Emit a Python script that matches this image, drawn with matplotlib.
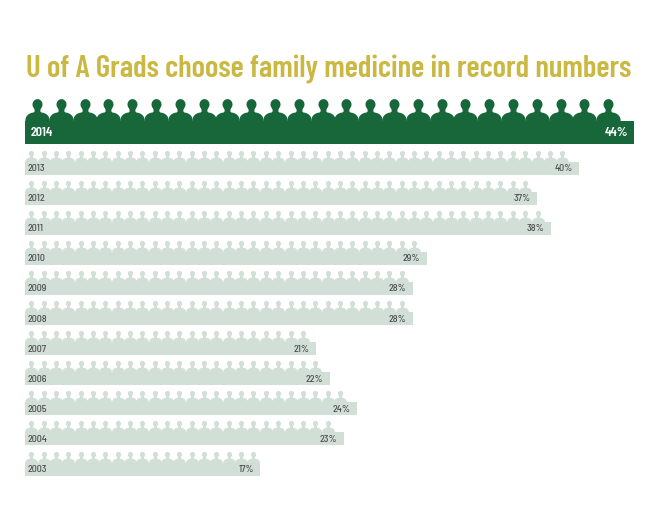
import numpy as np
import matplotlib
matplotlib.use("Agg")
import matplotlib.pyplot as plt
from matplotlib.path import Path
from matplotlib import font_manager as fm

title = "U of A Grads choose family medicine in record numbers"
years = ["2014", "2013", "2012", "2011", "2010", "2009", "2008", "2007", "2006", "2005", "2004", "2003"]
shares = [44, 40, 37, 38, 29, 28, 28, 21, 22, 24, 23, 17]

dark_green = "#17673a"
light_green = "#d2dfd6"
gold = "#cbb843"
grey_text = "#4d4d4d"

# condensed DIN-like faces if they are there, else DejaVu condensed
installed = {f.name for f in fm.fontManager.ttflist}
have_barlow = "Barlow Condensed" in installed
fonts = ["Barlow Condensed", "DejaVu Sans"] if have_barlow else ["DejaVu Sans"]
small_fonts = ["Barlow Semi Condensed"] + fonts if "Barlow Semi Condensed" in installed else fonts
title_size = 22.3 if have_barlow else 17

W, H, DPI = 654, 508, 100
x_left = 25          # pixel where the bars start
px_per_pct = 13.85   # bar length in pixels per percent


def person_marker():
    # origin sits on the bar top; one unit = half the spacing between people
    t = np.linspace(0, np.pi, 60)
    c, s = np.cos(t), np.sin(t)
    sh = np.column_stack([1.02 * np.sign(c) * np.abs(c) ** 0.8, 0.78 * s ** 0.8])
    sh = np.vstack([[1.02, -0.3], sh, [-1.02, -0.3], [1.02, -0.3]])
    nk = np.array([[-0.25, 0.6], [0.25, 0.6], [0.25, 1.25], [-0.25, 1.25], [-0.25, 0.6]])
    t2 = np.linspace(0, 2 * np.pi, 60)
    hd = np.column_stack([0.42 * np.cos(t2), 1.43 + 0.45 * np.sin(t2)])
    parts = [Path(sh, closed=True), Path(nk, closed=True), Path(hd, closed=True)]
    return Path.make_compound_path(*parts), 1.88


marker, reach = person_marker()

fig = plt.figure(figsize=(W / DPI, H / DPI), dpi=DPI)
ax = fig.add_axes([0, 0, 1, 1])
ax.set_xlim(-x_left / px_per_pct, (W - x_left) / px_per_pct)
ax.set_ylim(H, 0)
ax.axis("off")

fig.text(26 / W, 1 - 77 / H, title, color=gold, fontsize=title_size, fontweight=600,
         family=fonts, fontstretch="condensed", ha="left", va="baseline")

for i, (yr, val) in enumerate(zip(years, shares)):
    if i == 0:
        top, h, sp, col, tcol = 121, 23, 23.8, dark_green, "white"
        fs, fw, fam, pad = 10, 600, fonts, 5.5
    else:
        top, h, sp, col, tcol = 161.5 + 30.1 * (i - 1), 13, 12.35, light_green, grey_text
        fs, fw, fam, pad = 7.2, 500, small_fonts, 2.5
    ax.barh(top + h / 2, val, height=h, left=0, color=col, linewidth=0)
    # little people standing on the bar
    n = int((val * px_per_pct) // sp)
    xs = (sp / 2 + sp * np.arange(n)) / px_per_pct
    ys = np.full(n, top)
    ax.plot(xs, ys, ls="none", marker=marker, ms=reach * sp * 0.72, color=col, mec="none")
    ax.text(pad / px_per_pct, top + h / 2 + 0.5, yr, color=tcol, fontsize=fs, fontweight=fw,
            family=fam, fontstretch="condensed", ha="left", va="center")
    ax.text(val - 6.5 / px_per_pct, top + h / 2 + 0.5, f"{val}%", color=tcol, fontsize=fs,
            fontweight=fw, family=fam, fontstretch="condensed", ha="right", va="center")

fig.savefig("out.png", dpi=DPI, facecolor="white")
